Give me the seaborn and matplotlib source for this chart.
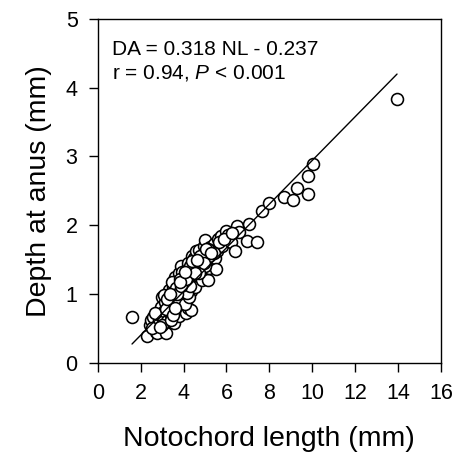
import numpy as np
import pandas as pd
import matplotlib
matplotlib.use("Agg")
import matplotlib.pyplot as plt
import seaborn as sns

# notochord length (mm) and depth at anus (mm)
nl = [1.60, 2.30, 2.45, 2.50, 2.60, 2.70, 2.75, 2.80, 2.85, 2.90, 2.95, 3.00,
      3.05, 3.10, 3.15, 3.20, 3.25, 3.30, 3.30, 3.35, 3.40, 3.45, 3.50, 3.50,
      3.55, 3.60, 3.60, 3.65, 3.70, 3.70, 3.75, 3.80, 3.80, 3.85, 3.90, 3.90,
      3.95, 4.00, 4.00, 4.05, 4.10, 4.10, 4.15, 4.20, 4.20, 4.25, 4.30, 4.35,
      4.35, 4.40, 4.45, 4.50, 4.50, 4.55, 4.60, 4.65, 4.70, 4.75, 4.80, 4.85,
      4.90, 4.95, 5.00, 5.05, 5.10, 5.15, 5.20, 5.25, 5.30, 5.40, 5.45, 5.50,
      5.55, 5.60, 5.75, 5.80, 6.00, 6.09, 6.20, 6.40, 6.48, 6.60, 6.94, 7.05,
      7.44, 7.66, 7.98, 8.68, 9.10, 9.29, 9.80, 9.80, 10.03, 13.95,
      2.55, 2.65, 3.00, 3.20, 3.40, 3.55, 3.75, 3.95, 4.05, 4.25, 4.45, 4.60,
      4.85, 5.00, 5.35, 2.90, 3.10, 3.45, 3.65, 3.85, 4.15, 4.30, 4.70, 5.20,
      3.25, 3.50, 3.70, 3.90, 4.10, 4.30, 4.55, 4.75, 4.95, 5.15, 5.40, 5.65,
      5.90, 6.25, 3.35, 3.60, 3.85, 4.05, 4.40, 4.65, 5.05, 5.30]
da = [0.66, 0.39, 0.55, 0.62, 0.67, 0.45, 0.43, 0.57, 0.62, 0.70, 0.81, 0.96,
      0.66, 0.75, 0.88, 0.43, 0.60, 0.86, 1.06, 0.72, 0.95, 0.65, 0.82, 1.10,
      0.58, 1.03, 1.25, 0.90, 0.75, 1.15, 0.98, 0.68, 1.30, 1.05, 1.40, 0.85,
      1.20, 0.95, 1.10, 1.01, 0.72, 1.35, 1.25, 0.80, 1.45, 1.15, 1.30, 0.77,
      1.05, 1.55, 1.20, 1.52, 1.38, 1.10, 1.62, 1.28, 1.64, 1.45, 1.35, 1.20,
      1.55, 1.70, 1.79, 1.48, 1.60, 1.20, 1.38, 1.68, 1.52, 1.73, 1.52, 1.37,
      1.62, 1.80, 1.84, 1.70, 1.92, 1.86, 1.75, 1.62, 1.99, 1.90, 1.77, 2.02,
      1.76, 2.21, 2.32, 2.41, 2.37, 2.54, 2.71, 2.45, 2.89, 3.84,
      0.50, 0.72, 0.55, 0.78, 0.62, 0.88, 0.90, 1.32, 0.85, 0.95, 1.42, 1.48,
      1.50, 1.40, 1.62, 0.52, 0.98, 1.18, 1.08, 1.22, 1.02, 1.12, 1.30, 1.55,
      0.92, 0.70, 1.00, 1.12, 1.22, 1.40, 1.30, 1.55, 1.45, 1.65, 1.60, 1.75,
      1.80, 1.88, 1.00, 0.80, 1.18, 1.32, 1.48, 1.50, 1.65, 1.60]

slope = 0.318
intercept = -0.237
eq_text = "DA = 0.318 NL - 0.237"
stat_text = "r = 0.94, $P$ < 0.001"

df = pd.DataFrame({"nl": nl, "da": da})

sns.set_style("ticks")
plt.rcParams["font.family"] = ["Liberation Sans", "DejaVu Sans"]
plt.rcParams["mathtext.fontset"] = "custom"
plt.rcParams["mathtext.rm"] = "Liberation Sans"
plt.rcParams["mathtext.it"] = "Liberation Sans:italic"
plt.rcParams["text.color"] = "black"
plt.rcParams["axes.labelcolor"] = "black"
plt.rcParams["xtick.color"] = "black"
plt.rcParams["ytick.color"] = "black"

fig = plt.figure(figsize=(4.58, 4.65), dpi=100)
ax = fig.add_axes([0.2133, 0.22, 0.7496, 0.7391])

sns.scatterplot(data=df, x="nl", y="da", ax=ax, s=74, facecolor="white",
                edgecolor="black", linewidth=1.15, zorder=2)

xfit = np.array([df["nl"].min(), df["nl"].max()])
ax.plot(xfit, slope * xfit + intercept, color="black", linewidth=1.0, zorder=3)

ax.set_xlim(0, 16)
ax.set_ylim(0, 5)
ax.set_xticks(np.arange(0, 17, 2))
ax.set_yticks(np.arange(0, 6, 1))
ax.tick_params(direction="out", length=6.5, width=1.0, labelsize=15.5, pad=8)
for sp in ax.spines.values():
    sp.set_linewidth(1.0)
    sp.set_color("black")

ax.set_xlabel("Notochord length (mm)", fontsize=20.5, labelpad=16)
ax.set_ylabel("Depth at anus (mm)", fontsize=20.5, labelpad=10)

ax.text(0.042, 0.895, eq_text, transform=ax.transAxes, fontsize=15,
        va="baseline", ha="left")
ax.text(0.042, 0.827, stat_text, transform=ax.transAxes, fontsize=15,
        va="baseline", ha="left")

fig.savefig("out.png", dpi=100)
